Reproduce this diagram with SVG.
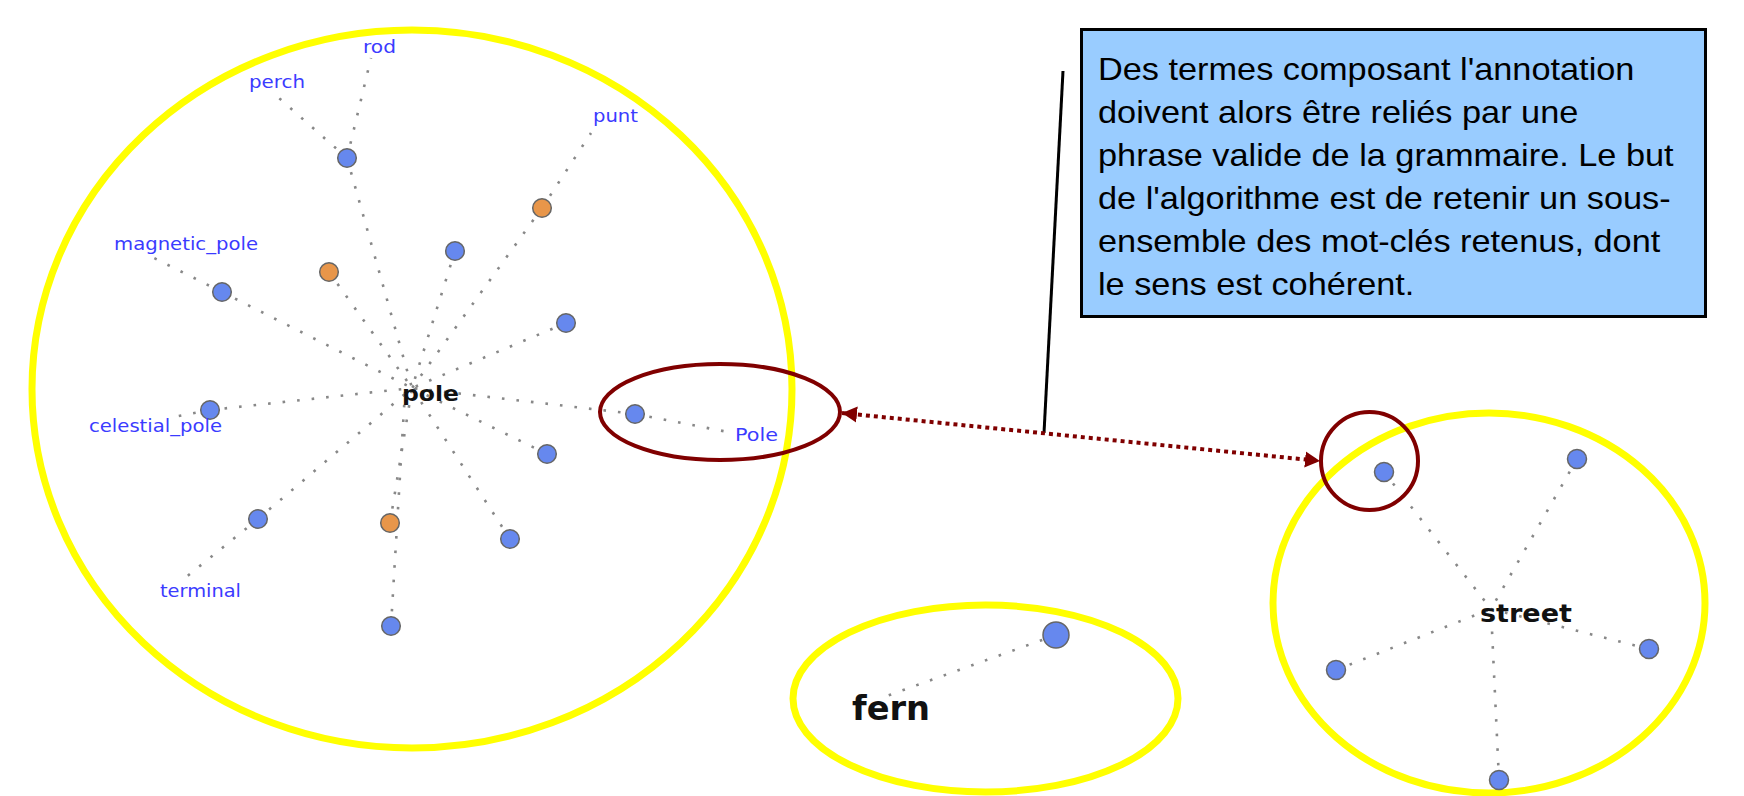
<svg xmlns="http://www.w3.org/2000/svg" width="1744" height="796" viewBox="0 0 1744 796">
<style>
.hull{fill:none;stroke:#ffff00;stroke-width:7}
.hl{fill:none;stroke:#800000;stroke-width:4}
.e{stroke:#888;stroke-width:2.6;stroke-dasharray:2.6 12;fill:none}
.nb{fill:#6688ee;stroke:#666;stroke-width:1.5}
.no{fill:#e8964a;stroke:#666;stroke-width:1.5}
.lab{font-family:"DejaVu Sans",Verdana,sans-serif;font-size:17px;fill:#3b3bff}
.hub{font-family:"DejaVu Sans",Verdana,sans-serif;font-weight:bold;fill:#111}
.note{font-family:"Liberation Sans",Arial,sans-serif;font-size:32px;fill:#000}
</style>
<defs>
<marker id="ah" markerUnits="userSpaceOnUse" markerWidth="16" markerHeight="18" refX="15" refY="8" orient="auto-start-reverse" viewBox="0 0 16 16">
<path d="M0,0 L15,8 L0,16 z" fill="#800000"/>
</marker>
</defs>
<rect width="1744" height="796" fill="#ffffff"/>

<g id="hulls">
<ellipse class="hull" cx="412" cy="389" rx="380" ry="359"/>
<ellipse class="hull" cx="985.5" cy="698.5" rx="192.5" ry="93.5"/>
<ellipse class="hull" cx="1489" cy="603" rx="216" ry="190"/>
</g>

<g id="connectors">
<!-- pole graph -->
<line class="e" x1="347" y1="158" x2="412" y2="388"/>
<line class="e" x1="347" y1="158" x2="271" y2="91"/>
<line class="e" x1="347" y1="158" x2="371" y2="58"/>
<line class="e" x1="542" y1="208" x2="412" y2="388"/>
<line class="e" x1="542" y1="208" x2="591" y2="133"/>
<line class="e" x1="455" y1="251" x2="412" y2="388"/>
<line class="e" x1="329" y1="272" x2="412" y2="388"/>
<line class="e" x1="222" y1="292" x2="412" y2="388"/>
<line class="e" x1="222" y1="292" x2="146" y2="254"/>
<line class="e" x1="566" y1="323" x2="412" y2="388"/>
<line class="e" x1="210" y1="410" x2="412" y2="388"/>
<line class="e" x1="210" y1="410" x2="168" y2="418"/>
<line class="e" x1="635" y1="414" x2="412" y2="388"/>
<line class="e" x1="635" y1="414" x2="728" y2="432"/>
<line class="e" x1="547" y1="454" x2="412" y2="388"/>
<line class="e" x1="258" y1="519" x2="412" y2="388"/>
<line class="e" x1="258" y1="519" x2="180" y2="582"/>
<line class="e" x1="390" y1="523" x2="412" y2="388"/>
<line class="e" x1="391" y1="626" x2="405" y2="392"/>
<line class="e" x1="510" y1="539" x2="412" y2="388"/>
<!-- fern -->
<line class="e" x1="1056" y1="635" x2="884" y2="697"/>
<!-- street -->
<line class="e" x1="1384" y1="472" x2="1491" y2="609"/>
<line class="e" x1="1577" y1="459" x2="1491" y2="609"/>
<line class="e" x1="1336" y1="670" x2="1491" y2="609"/>
<line class="e" x1="1649" y1="649" x2="1491" y2="609"/>
<line class="e" x1="1499" y1="780" x2="1491" y2="609"/>
<!-- callout and link -->
<line x1="1063" y1="71" x2="1044" y2="433" stroke="#000" stroke-width="3"/>
<line x1="842" y1="413" x2="1320" y2="461" stroke="#800000" stroke-width="4" stroke-dasharray="4 4" marker-start="url(#ah)" marker-end="url(#ah)"/>
</g>

<g id="pole-graph">
<circle class="nb" cx="347" cy="158" r="9.3"/>
<circle class="no" cx="542" cy="208" r="9.3"/>
<circle class="nb" cx="455" cy="251" r="9.3"/>
<circle class="no" cx="329" cy="272" r="9.3"/>
<circle class="nb" cx="222" cy="292" r="9.3"/>
<circle class="nb" cx="566" cy="323" r="9.3"/>
<circle class="nb" cx="210" cy="410" r="9.3"/>
<circle class="nb" cx="635" cy="414" r="9.3"/>
<circle class="nb" cx="547" cy="454" r="9.3"/>
<circle class="nb" cx="258" cy="519" r="9.3"/>
<circle class="no" cx="390" cy="523" r="9.3"/>
<circle class="nb" cx="510" cy="539" r="9.3"/>
<circle class="nb" cx="391" cy="626" r="9.3"/>
<text class="hub" x="402" y="401" font-size="21" textLength="57" lengthAdjust="spacingAndGlyphs">pole</text>
<text class="lab" x="363" y="53" textLength="33" lengthAdjust="spacingAndGlyphs">rod</text>
<text class="lab" x="249" y="88" textLength="56" lengthAdjust="spacingAndGlyphs">perch</text>
<text class="lab" x="593" y="122" textLength="45" lengthAdjust="spacingAndGlyphs">punt</text>
<text class="lab" x="114" y="250" textLength="144" lengthAdjust="spacingAndGlyphs">magnetic_pole</text>
<text class="lab" x="89" y="432" textLength="133" lengthAdjust="spacingAndGlyphs">celestial_pole</text>
<text class="lab" x="735" y="441" textLength="43" lengthAdjust="spacingAndGlyphs">Pole</text>
<text class="lab" x="160" y="597" textLength="81" lengthAdjust="spacingAndGlyphs">terminal</text>
</g>

<g id="fern-graph">
<circle class="nb" cx="1056" cy="635" r="13"/>
<text class="hub" x="852" y="720" font-size="33" textLength="78" lengthAdjust="spacingAndGlyphs">fern</text>
</g>

<g id="street-graph">
<circle class="nb" cx="1384" cy="472" r="9.5"/>
<circle class="nb" cx="1577" cy="459" r="9.5"/>
<circle class="nb" cx="1336" cy="670" r="9.5"/>
<circle class="nb" cx="1649" cy="649" r="9.5"/>
<circle class="nb" cx="1499" cy="780" r="9.5"/>
<text class="hub" x="1480" y="622" font-size="24" textLength="92" lengthAdjust="spacingAndGlyphs">street</text>
</g>

<g id="highlights">
<ellipse class="hl" cx="720" cy="412" rx="120" ry="48"/>
<ellipse class="hl" cx="1369.5" cy="461" rx="48.5" ry="49"/>
</g>

<g id="note">
<rect x="1081.5" y="29.5" width="624" height="287" fill="#99ccff" stroke="#000" stroke-width="3"/>
<g transform="translate(1098,0) scale(1.072,1)">
<text class="note" x="0" y="80">Des termes composant l'annotation</text>
<text class="note" x="0" y="123">doivent alors être reliés par une</text>
<text class="note" x="0" y="166">phrase valide de la grammaire. Le but</text>
<text class="note" x="0" y="209">de l'algorithme est de retenir un sous-</text>
<text class="note" x="0" y="252">ensemble des mot-clés retenus, dont</text>
<text class="note" x="0" y="295">le sens est cohérent.</text>
</g>
</g>
</svg>
